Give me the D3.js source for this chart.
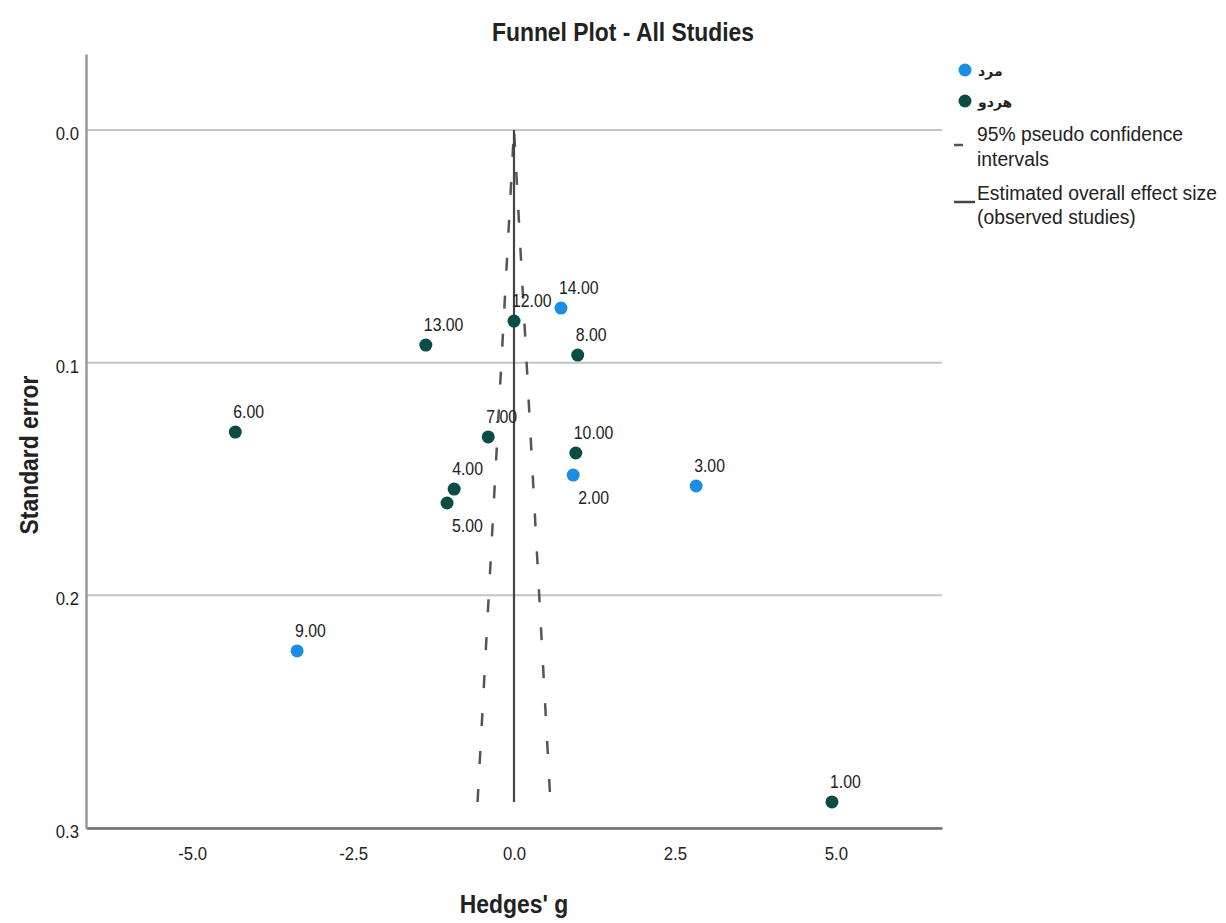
<!DOCTYPE html>
<html>
<head>
<meta charset="utf-8">
<script src="https://cdn.jsdelivr.net/npm/d3@7"></script>
<style>
	body { margin: 0; background: #fff; }
	text { font-family: "Liberation Sans", Arial, "DejaVu Sans", sans-serif; fill: #222; }
</style>
</head>
<body>
<div id="chart"></div>
<script>
// Study data
const studyIds = ["1.00", "2.00", "3.00", "4.00", "5.00", "6.00", "7.00", "8.00", "9.00", "10.00", "12.00", "13.00", "14.00"];
const hedgesG = [4.94, 0.92, 2.83, -0.93, -1.04, -4.33, -0.40, 0.99, -3.37, 0.96, 0.0, -1.37, 0.73];
const standardErrors = [0.2888, 0.1483, 0.1530, 0.1543, 0.1603, 0.1298, 0.1319, 0.0967, 0.2239, 0.1388, 0.0821, 0.0924, 0.0765];
const studyGroups = ["هردو", "مرد", "مرد", "هردو", "هردو", "هردو", "هردو", "هردو", "مرد", "هردو", "هردو", "هردو", "مرد"];

const groupNames = ["مرد", "هردو"];
const xTicks = [-5, -2.5, 0, 2.5, 5];
const yTicks = [0.0, 0.1, 0.2, 0.3];
const overallEffect = 0.0;
// labels that SPSS put under the point instead of above
const labelsBelow = ["2.00", "5.00"];

generateChart();

// put a text at x,y, a bit squeezed sideways like the narrow SPSS font
function placeText(sel, x, y, squeeze) {
	return sel.attr('x', 0).attr('y', 0)
		.attr('transform', `translate(${x}, ${y}) scale(${squeeze}, 1)`);
}

function generateChart() {
	const width = 1226;
	const height = 923;
	const colours = d3.scaleOrdinal().domain(groupNames).range(['#1b8de4', '#0b4c44']);

	const xScale = d3.scaleLinear().domain([-6.65, 6.65]).range([86, 942]);
	const yScale = d3.scaleLinear().domain([-0.0327, 0.3]).range([54, 828]);

	const svg = d3.select('#chart').append('svg')
		.attr('width', width)
		.attr('height', height);

	svg.append('rect').attr('width', width).attr('height', height).attr('fill', '#fff');

	// Horizontal reference lines
	svg.append('g').selectAll('line')
		.data(yTicks)
		.enter().append('line')
			.attr('x1', xScale.range()[0])
			.attr('x2', xScale.range()[1])
			.attr('y1', (d) => yScale(d))
			.attr('y2', (d) => yScale(d))
			.attr('stroke', '#c4c4c4')
			.attr('stroke-width', 2);

	// Axes
	const xAxis = svg.append('g')
		.attr('transform', `translate(0, ${yScale.range()[1]})`)
		.call(d3.axisBottom(xScale).tickValues(xTicks).tickSize(0).tickPadding(19)
			.tickFormat((d) => d.toFixed(1)));
	xAxis.select('.domain').attr('stroke', '#6f6f6f').attr('stroke-width', 2.5);
	xAxis.selectAll('text')
		.attr('font-size', 19)
		.attr('fill', '#222')
		.attr('transform', 'scale(0.88, 1)');

	const yAxis = svg.append('g')
		.attr('transform', `translate(${xScale.range()[0]}, 0)`)
		.call(d3.axisLeft(yScale).tickValues(yTicks).tickSize(0).tickPadding(8)
			.tickFormat((d) => d.toFixed(1)));
	yAxis.select('.domain').attr('stroke', '#9a9a9a').attr('stroke-width', 2.5);
	yAxis.selectAll('text')
		.attr('font-size', 19)
		.attr('dy', '0.5em')
		.attr('fill', '#222')
		.attr('transform', 'scale(0.88, 1)');

	// Funnel: 95% pseudo confidence limits and the overall effect
	const maxSE = d3.max(standardErrors);
	const limits = [-1.96, 1.96];
	svg.append('g').selectAll('line')
		.data(limits)
		.enter().append('line')
			.attr('x1', (z) => xScale(overallEffect + z * maxSE))
			.attr('y1', yScale(maxSE))
			.attr('x2', xScale(overallEffect))
			.attr('y2', yScale(0))
			.attr('stroke', '#555')
			.attr('stroke-width', 2.5)
			.attr('stroke-dasharray', '13,25')
			.attr('stroke-dashoffset', (z, i) => i == 0 ? 0 : 28);

	svg.append('line')
		.attr('x1', xScale(overallEffect))
		.attr('x2', xScale(overallEffect))
		.attr('y1', yScale(0))
		.attr('y2', yScale(maxSE))
		.attr('stroke', '#444')
		.attr('stroke-width', 2.2);

	// Study points
	const studies = studyIds.map((id, i) => ({id: id, g: hedgesG[i], se: standardErrors[i], group: studyGroups[i]}));

	svg.append('g').selectAll('circle')
		.data(studies)
		.enter().append('circle')
			.attr('cx', (d) => xScale(d.g))
			.attr('cy', (d) => yScale(d.se))
			.attr('r', 6.5)
			.attr('fill', (d) => colours(d.group));

	svg.append('g').selectAll('text')
		.data(studies)
		.enter().append('text')
			.attr('font-size', 18)
			.text((d) => d.id)
			.each(function(d) {
				const below = labelsBelow.includes(d.id);
				const px = xScale(d.g) + (below ? 5 : -2);
				const py = yScale(d.se) + (below ? 29 : -14);
				placeText(d3.select(this), px, py, 0.88);
			});

	// Title and axis titles
	placeText(svg.append('text'), 623, 41, 0.88)
		.attr('text-anchor', 'middle')
		.attr('font-size', 26)
		.attr('font-weight', 'bold')
		.text('Funnel Plot - All Studies');

	placeText(svg.append('text'), 514, 913, 0.88)
		.attr('text-anchor', 'middle')
		.attr('font-size', 26)
		.attr('font-weight', 'bold')
		.text("Hedges' g");

	svg.append('text')
		.attr('transform', 'translate(38, 455) rotate(-90) scale(0.88, 1)')
		.attr('text-anchor', 'middle')
		.attr('font-size', 26)
		.attr('font-weight', 'bold')
		.text('Standard error');

	// Legend
	const legend = svg.append('g');
	groupNames.forEach((name, i) => {
		legend.append('circle')
			.attr('cx', 965)
			.attr('cy', 70 + i * 31)
			.attr('r', 6.5)
			.attr('fill', colours(name));
		legend.append('text')
			.attr('x', 978)
			.attr('y', 76 + i * 31)
			.attr('font-size', 14)
			.attr('font-weight', 'bold')
			.attr('font-family', '"DejaVu Sans", sans-serif')
			.text(name);
	});

	legend.append('line')
		.attr('x1', 954).attr('x2', 963)
		.attr('y1', 145).attr('y2', 145)
		.attr('stroke', '#555').attr('stroke-width', 2.5);
	legend.append('line')
		.attr('x1', 954).attr('x2', 975)
		.attr('y1', 202).attr('y2', 202)
		.attr('stroke', '#444').attr('stroke-width', 2.5);

	const legendLines = [
		['95% pseudo confidence', 977, 141],
		['intervals', 977, 166],
		['Estimated overall effect size', 977, 200],
		['(observed studies)', 977, 224]
	];
	legendLines.forEach((l) => {
		placeText(legend.append('text'), l[1], l[2], 0.92)
			.attr('font-size', 21)
			.text(l[0]);
	});
}
</script>
</body>
</html>
